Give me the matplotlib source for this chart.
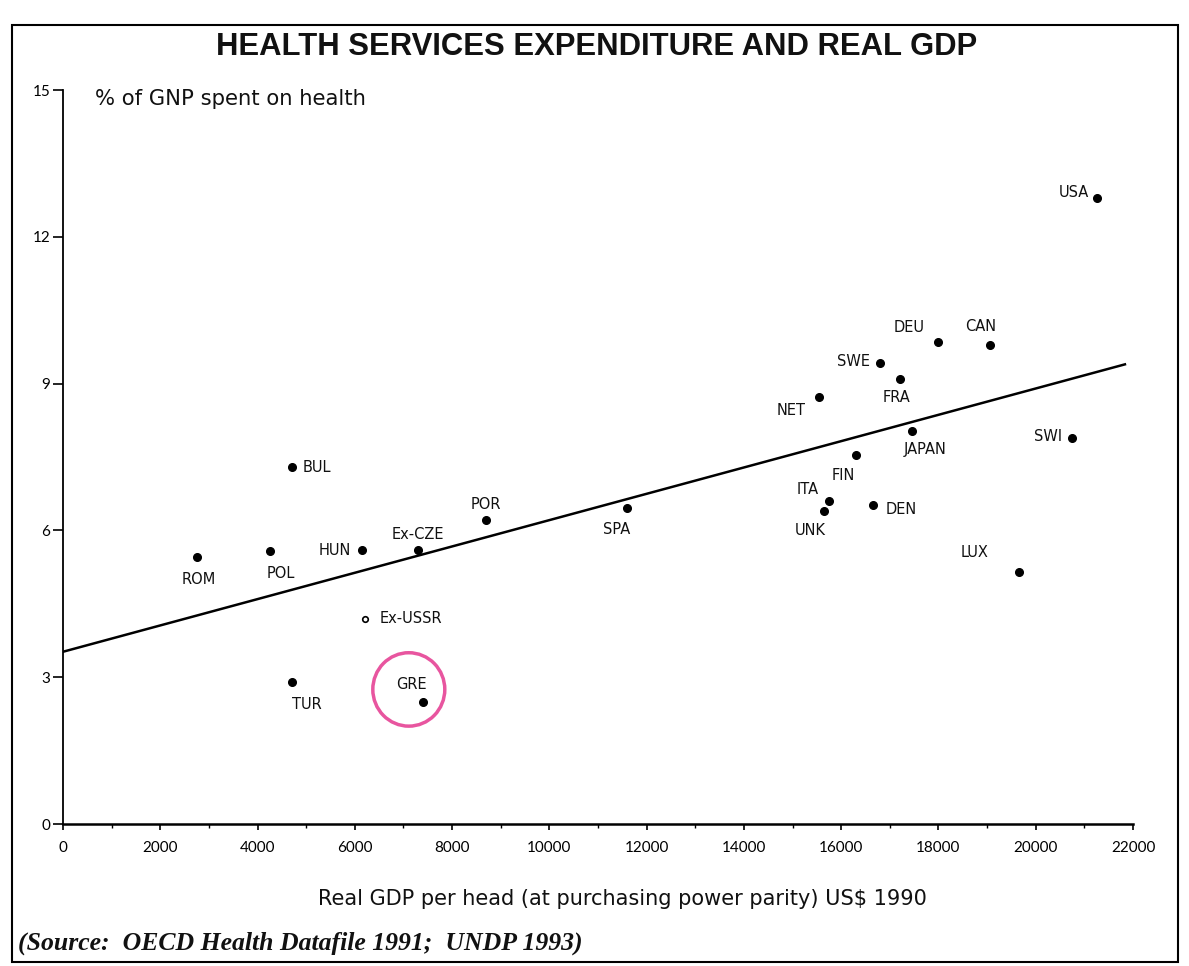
import matplotlib
matplotlib.use("Agg")
import matplotlib.pyplot as plt
from matplotlib.patches import Rectangle, Ellipse
import numpy as np

# ---- data ----
countries = ["USA", "DEU", "CAN", "SWE", "FRA", "NET", "JAPAN", "SWI", "FIN", "ITA",
             "UNK", "DEN", "SPA", "LUX", "POR", "BUL", "ROM", "POL", "HUN", "Ex-CZE",
             "Ex-USSR", "TUR", "GRE"]
gdp = [21250, 18000, 19050, 16800, 17200, 15550, 17450, 20750, 16300, 15750,
       15650, 16650, 11600, 19650, 8700, 4700, 2750, 4250, 6150, 7300,
       6200, 4700, 7400]
health = [12.8, 9.85, 9.78, 9.43, 9.10, 8.73, 8.04, 7.89, 7.55, 6.61,
          6.40, 6.52, 6.46, 5.15, 6.22, 7.30, 5.46, 5.58, 5.60, 5.60,
          4.19, 2.90, 2.49]
fit_intercept = 3.52
fit_slope = 0.000269
fit_xrange = [0, 21834]
x_ticks = list(range(0, 22001, 2000))
y_ticks = [0, 3, 6, 9, 12, 15]

# ---- label layout (pixel offsets, alignment) ----
label_layout = {
    "USA": (-8, 5, "right"), "DEU": (-29, 15, "center"), "CAN": (-9, 19, "center"),
    "SWE": (-10, 1, "right"), "FRA": (-3, -19, "center"), "NET": (-28, -14, "center"),
    "JAPAN": (13, -19, "center"), "SWI": (-10, 1, "right"), "FIN": (-12, -21, "center"),
    "ITA": (-21, 11, "center"), "UNK": (-14, -20, "center"), "DEN": (13, -5, "left"),
    "SPA": (-11, -22, "center"), "LUX": (-44, 19, "center"), "POR": (0, 15, "center"),
    "BUL": (11, -1, "left"), "ROM": (2, -23, "center"), "POL": (11, -23, "center"),
    "HUN": (-11, -1, "right"), "Ex-CZE": (0, 15, "center"), "Ex-USSR": (15, 0, "left"),
    "TUR": (15, -22, "center"), "GRE": (-11, 18, "center"),
}

LAT = ["Lato", "DejaVu Sans"]
DJV = ["DejaVu Sans"]
fig = plt.figure(figsize=(11.89, 9.66), dpi=100)
ax = fig.add_axes([63/1189, (966-824)/966, (1133-63)/1189, (824-90)/966])

# scatter
for c, x, y in zip(countries, gdp, health):
    if c == "Ex-USSR":
        ax.plot(x, y, marker="o", ms=4, mfc="white", mec="black", mew=1.2, zorder=3)
    else:
        ax.plot(x, y, marker="o", ms=5.5, color="black", zorder=3)
    dx, dy, ha = label_layout[c]
    ax.annotate(c, (x, y), xytext=(dx, dy), textcoords="offset pixels",
                ha=ha, va="center", fontsize=10.5, family=DJV, color="#111111")

# regression line
fx = np.array(fit_xrange, dtype=float)
ax.plot(fx, fit_intercept + fit_slope * fx, color="black", lw=1.8, zorder=2)

# hand-drawn circle around GRE
gi = countries.index("GRE")
ax.add_patch(Ellipse((gdp[gi] - 290, health[gi] + 0.26), 1480, 1.5,
                     fill=False, ec="#e8559f", lw=2.5, zorder=4))

ax.set_xlim(0, 22000)
ax.set_ylim(0, 15)
ax.set_xticks(x_ticks)
ax.set_xticks(range(1000, 22000, 2000), minor=True)
ax.set_yticks(y_ticks)
ax.tick_params(axis="x", direction="out", length=4, width=1.2, labelsize=11, pad=8)
ax.tick_params(axis="x", which="minor", direction="out", length=3, width=1)
ax.tick_params(axis="y", direction="out", length=7, width=1.2, labelsize=11, pad=2)
for lab in ax.get_xticklabels() + ax.get_yticklabels():
    lab.set_family(LAT)
ax.spines["top"].set_visible(False)
ax.spines["right"].set_visible(False)
ax.spines["left"].set_linewidth(1.3)
ax.spines["bottom"].set_linewidth(1.8)

# texts
fig.text(597/1189, 1 - 47/966, "HEALTH SERVICES EXPENDITURE AND REAL GDP",
         ha="center", va="center", fontsize=22.3, weight="bold",
         family=["Liberation Sans", "DejaVu Sans"], color="#111111")
fig.text(95/1189, 1 - 99/966, "% of GNP spent on health", ha="left", va="center",
         fontsize=15.2, family=DJV, color="#111111")
fig.text(622/1189, 1 - 899/966, "Real GDP per head (at purchasing power parity) US$ 1990",
         ha="center", va="center", fontsize=15, family=DJV, color="#111111")
fig.text(18/1189, 1 - 943/966, "(Source:  OECD Health Datafile 1991;  UNDP 1993)",
         ha="left", va="center", fontsize=18.5, family=["Liberation Serif", "DejaVu Serif"],
         style="italic", weight="bold", color="#111111")

# border frame
fig.patches.append(Rectangle((12/1189, 4/966), (1178-12)/1189, (941-4)/966,
                             transform=fig.transFigure, fill=False, ec="black", lw=1.5))

fig.savefig("out.png", dpi=100)
